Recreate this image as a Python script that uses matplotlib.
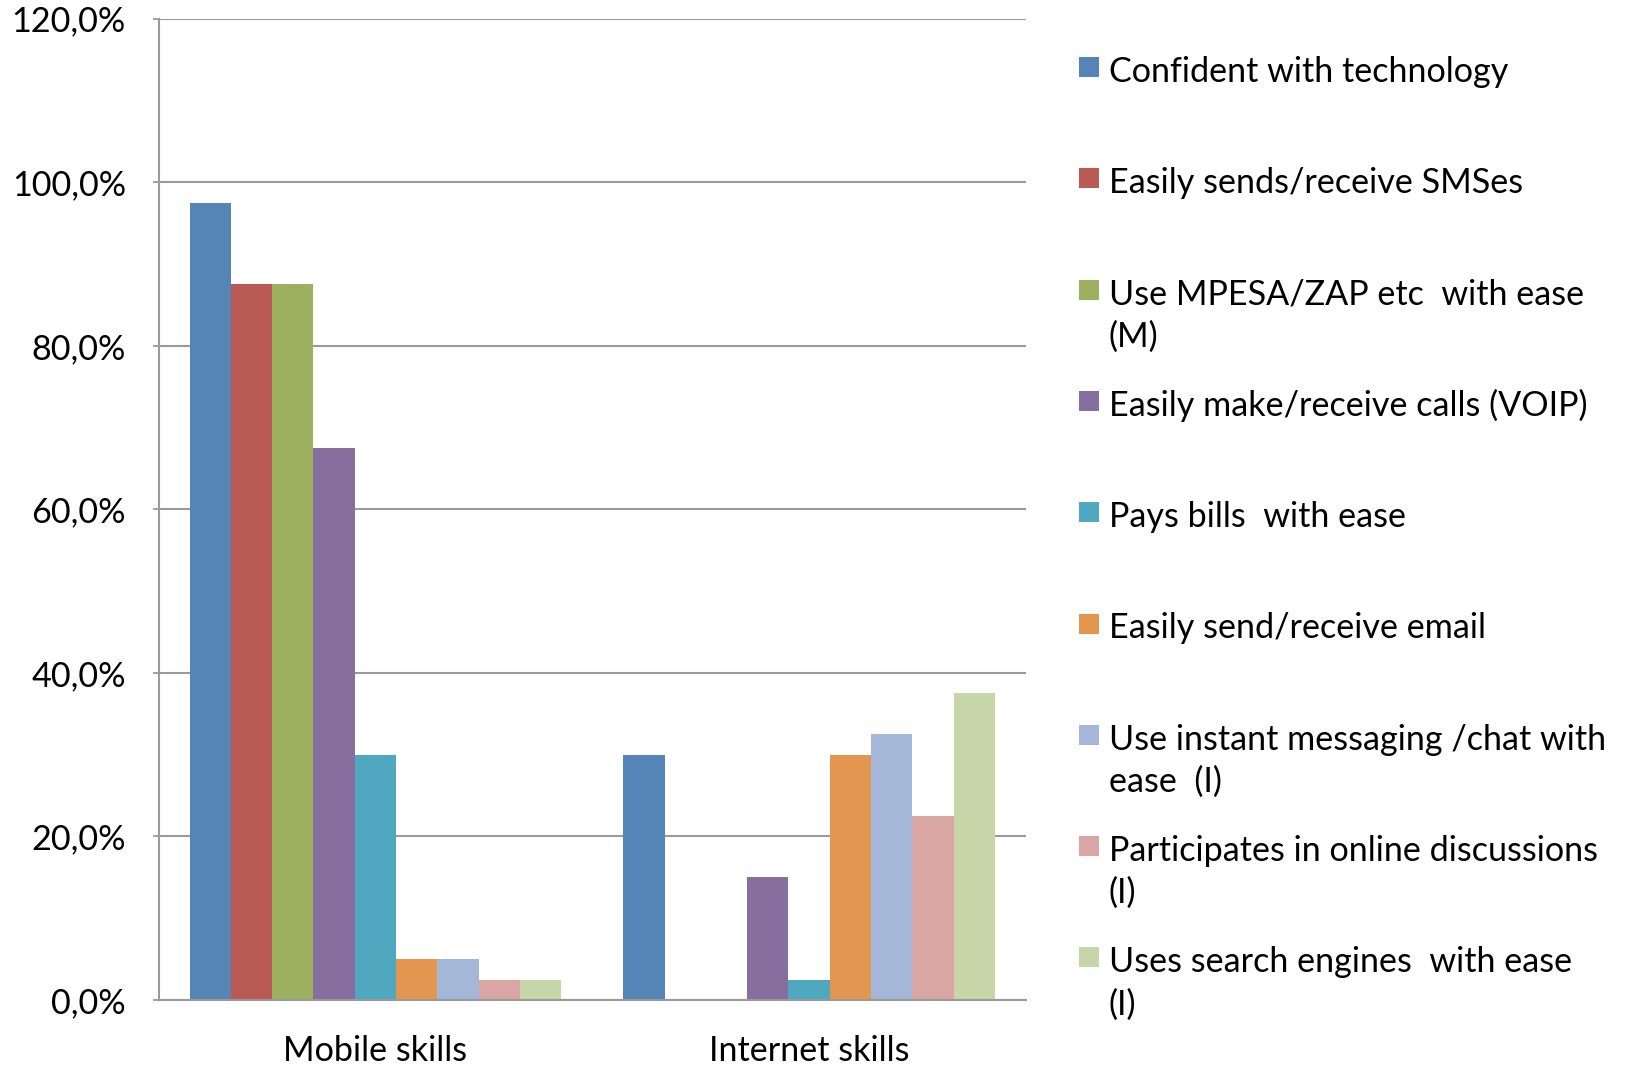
import matplotlib
matplotlib.use("Agg")
import matplotlib.pyplot as plt
from matplotlib.patches import Rectangle
import numpy as np

categories = ["Mobile skills", "Internet skills"]
series_names = [
    "Confident with technology",
    "Easily sends/receive SMSes",
    "Use MPESA/ZAP etc  with ease\n(M)",
    "Easily make/receive calls (VOIP)",
    "Pays bills  with ease",
    "Easily send/receive email",
    "Use instant messaging /chat with\nease  (I)",
    "Participates in online discussions\n(I)",
    "Uses search engines  with ease\n(I)",
]
mobile_values = [97.5, 87.5, 87.5, 67.5, 30.0, 5.0, 5.0, 2.5, 2.5]
internet_values = [30.0, 0.0, 0.0, 15.0, 2.5, 30.0, 32.5, 22.5, 37.5]
colors = ["#5585B7", "#B95B54", "#9DB05F", "#866F9F", "#50A8C0",
          "#E2964F", "#A4B7D8", "#DAA6A4", "#C6D6A8"]
yticks = [0, 20, 40, 60, 80, 100, 120]
ytick_labels = ["0,0%", "20,0%", "40,0%", "60,0%", "80,0%", "100,0%", "120,0%"]

W, H = 1625, 1065
fig = plt.figure(figsize=(W / 100, H / 100), dpi=100)
left, right, top, bottom = 158.6, 1026.0, 18.7, 1000.0
ax = fig.add_axes([left / W, 1 - bottom / H, (right - left) / W, (bottom - top) / H])

FONT = "Lato"
FS = 24.6
n = len(series_names)
width = 1.0 / 10.5
x = np.arange(len(categories))
for i in range(n):
    vals = [mobile_values[i], internet_values[i]]
    offs = (i - (n - 1) / 2) * width
    ax.bar(x + offs, vals, width=width, color=colors[i], linewidth=0, zorder=3)

grid_c = "#9a9a9a"
ax.set_xlim(-0.5, 1.5)
ax.set_ylim(0, 120)
ax.set_yticks(yticks)
ax.set_yticklabels(ytick_labels, fontsize=FS, fontfamily=FONT)
ax.set_xticks(x)
ax.set_xticklabels(categories, fontsize=FS, fontfamily=FONT)
ax.tick_params(axis="y", length=4, width=1.3, color=grid_c, pad=19.5)
ax.tick_params(axis="x", length=0, pad=25)
ax.yaxis.grid(True, color=grid_c, linewidth=1.5, zorder=0)
ax.set_axisbelow(True)
for s in ["top", "right"]:
    ax.spines[s].set_visible(False)
for s in ["left", "bottom"]:
    ax.spines[s].set_color(grid_c)
    ax.spines[s].set_linewidth(1.5)
    ax.spines[s].set_zorder(4)

# manual legend (first-line aligned like the original)
base0 = 82.0
step = 111.3
for i, name in enumerate(series_names):
    yb = base0 + step * i
    fig.patches.append(Rectangle((1079 / W, 1 - (yb - 5) / H), 20 / W, 20 / H,
                                 transform=fig.transFigure, facecolor=colors[i],
                                 edgecolor="none"))
    lines = name.split("\n")
    for j, ln in enumerate(lines):
        fig.text(1109 / W, 1 - (yb + 42 * j) / H, ln, fontsize=FS, fontfamily=FONT,
                 ha="left", va="baseline")

fig.savefig("out.png", dpi=100)
